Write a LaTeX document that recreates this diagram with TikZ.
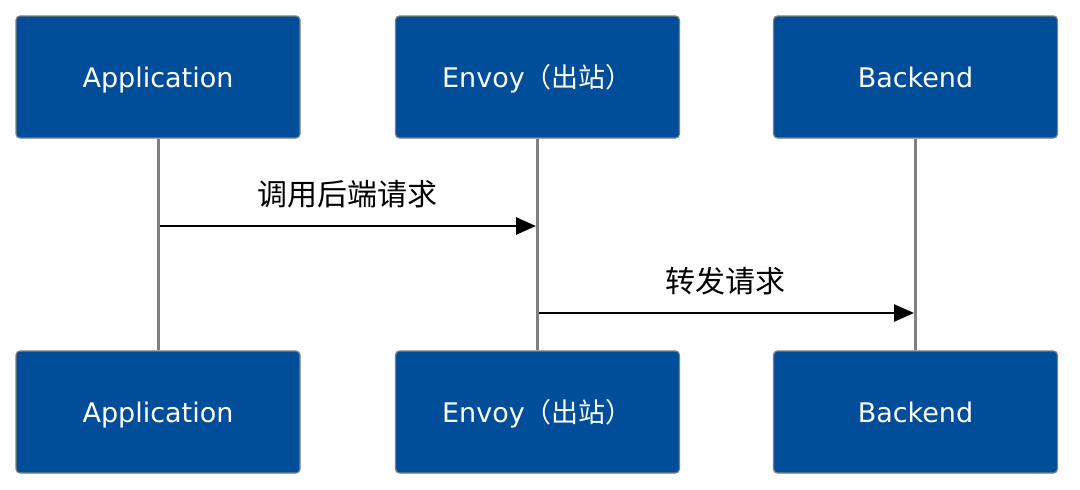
\documentclass[tikz,border=0pt]{standalone}
\usepackage{fontspec}
\setmainfont{DejaVu Sans}
\newfontfamily\cjk{Noto Sans CJK SC}
\usetikzlibrary{arrows.meta}

\definecolor{boxblue}{RGB}{0,77,153}
\definecolor{linegray}{RGB}{128,128,128}

\begin{document}
\begin{tikzpicture}[x=1pt, y=-1pt,
    actor/.style={draw=linegray, line width=1.2pt, fill=boxblue, rounded corners=4pt,
                  minimum width=284pt, minimum height=122pt, text=white,
                  text height=24pt, text depth=4pt,
                  font=\fontsize{27}{32}\selectfont},
    life/.style={linegray, line width=3pt},
    msg/.style={-{Triangle[length=20pt,width=17pt]}, line width=2.6pt, black},
    msglabel/.style={font=\fontsize{30}{34}\selectfont\cjk, anchor=base}]
\useasboundingbox (0,0) rectangle (1080,490);

% Participants, top and bottom
\foreach \name/\x/\txt in {app/158/Application, envoy/537.5/{Envoy{\cjk（出站）}}, back/915.5/Backend} {
    \node[actor] (\name Top) at (\x,77) {\txt};
    \node[actor] (\name Bot) at (\x,412) {\txt};
    % lifeline
    \draw[life] (\name Top.south) -- (\name Bot.north);
}

% Message end points on the lifelines
\coordinate (m1s) at (appTop.south |- 0,226);
\coordinate (m1e) at (envoyTop.south |- 0,226);
\coordinate (m2s) at (envoyTop.south |- 0,313);
\coordinate (m2e) at (backTop.south |- 0,313);

% Messages
\draw[msg] ([xshift=1.5pt]m1s) -- ([xshift=-1.5pt]m1e);
\node[msglabel] (lbl1) at (347,205) {调用后端请求};
\draw[msg] ([xshift=1.5pt]m2s) -- ([xshift=-1.5pt]m2e);
\node[msglabel] (lbl2) at (725,292) {转发请求};

\end{tikzpicture}
\end{document}
